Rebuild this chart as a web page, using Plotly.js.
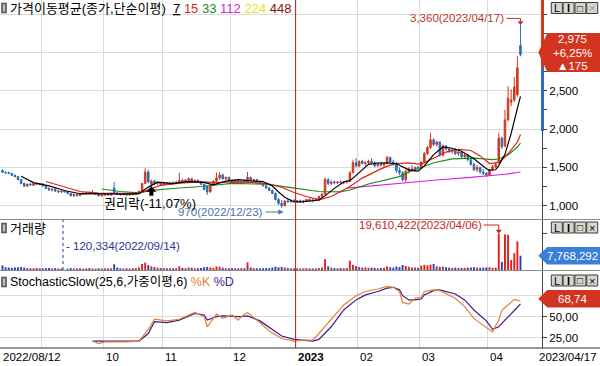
<!DOCTYPE html>
<html><head><meta charset="utf-8">
<script src="https://cdn.plot.ly/plotly-3.0.1.min.js"></script>
<style>html,body{margin:0;padding:0;background:#fff}#chart{width:600px;height:366px}</style>
</head><body><div id="chart"></div>
<script>
// ---------- calendar (KRX sessions) ----------
const firstDay = '2022-08-12', lastDay = '2023-04-17';
const holidays = ['2022-08-15','2022-09-09','2022-09-12','2022-10-03','2022-10-10','2022-12-30','2023-01-23','2023-01-24','2023-03-01'];
function tradingDays(){const out=[];let d=new Date(firstDay+'T00:00:00Z');const end=new Date(lastDay+'T00:00:00Z');
 while(d<=end){const wd=d.getUTCDay();const s=d.toISOString().slice(0,10);if(wd!==0&&wd!==6&&holidays.indexOf(s)<0)out.push(s.replace(/-/g,'/'));d=new Date(d.getTime()+86400000);}return out;}
const dates = tradingDays();

// ---------- price data ----------
const open = [1460,1435,1430,1420,1395,1380,1340,1290,1255,1280,1265,1290,1280,
 1285,1260,1225,1205,1215,1190,1180,1190,1180,1160,1130,1145,1130,1160,1150,1170,1160,1165,1150,1130,
 1140,1150,1140,1230,1165,1150,1145,1155,1140,1150,1145,1170,1190,1290,1440,1280,1320,1290,1300,
 1275,1290,1280,1300,1290,1310,1330,1310,1335,1350,1310,1330,1305,1280,1250,1180,1270,1320,1360,1400,1350,1370,
 1330,1300,1330,1300,1320,1310,1370,1330,1340,1310,1290,1260,1230,1200,1160,1080,1030,1000,1060,1050,1070,
 1055,1065,1050,1060,1080,1060,1075,1070,1120,1150,1340,1290,1310,1300,1310,1300,1310,1320,1430,1560,
 1520,1580,1550,1560,1580,1560,1520,1550,1530,1550,1630,1570,1540,1460,1430,1340,1450,1480,1460,1500,
 1490,1570,1680,1760,1860,1800,1830,1660,1780,1740,1710,1730,1680,1700,1640,1660,1600,1540,1470,1500,1440,1420,
 1400,1470,1510,1560,1880,1780,2120,2350,2380,2450,3090];
const high = [1475,1450,1445,1430,1410,1390,1350,1300,1290,1300,1295,1300,1295,
 1290,1270,1240,1225,1230,1205,1200,1195,1190,1170,1155,1160,1165,1175,1175,1185,1205,1175,1160,1150,
 1160,1165,1170,1310,1175,1160,1165,1165,1160,1160,1175,1195,1300,1490,1470,1340,1340,1320,1310,
 1300,1310,1305,1320,1320,1430,1350,1345,1370,1365,1340,1345,1320,1290,1270,1280,1330,1430,1440,1420,1380,1380,
 1345,1340,1350,1330,1340,1440,1380,1350,1350,1330,1300,1275,1240,1210,1170,1100,1075,1070,1090,1080,1085,
 1075,1080,1070,1090,1095,1085,1100,1130,1170,1370,1360,1330,1330,1320,1330,1320,1335,1450,1600,1620,
 1590,1600,1580,1600,1620,1580,1560,1570,1560,1650,1640,1600,1570,1500,1450,1470,1500,1530,1510,1520,
 1580,1700,1780,1950,1880,1850,1840,1800,1790,1760,1740,1750,1720,1710,1680,1670,1620,1560,1530,1510,1480,1440,
 1480,1530,1560,1950,1900,2250,2560,2520,2680,2950,3360];
const low = [1425,1420,1410,1385,1370,1330,1280,1245,1250,1265,1260,1270,1265,
 1250,1215,1195,1185,1180,1170,1165,1175,1150,1120,1115,1120,1125,1145,1140,1150,1155,1140,1120,1115,
 1125,1135,1130,1150,1140,1130,1135,1135,1130,1135,1140,1160,1185,1280,1290,1250,1270,1270,1260,
 1260,1275,1270,1280,1280,1300,1300,1300,1320,1300,1295,1300,1270,1200,1140,1170,1260,1310,1340,1340,1330,1320,
 1290,1290,1290,1280,1300,1305,1320,1310,1300,1280,1250,1220,1190,1150,1070,1010,970,990,1040,1040,1045,
 1040,1040,1030,1050,1050,1045,1060,1065,1100,1140,1270,1270,1280,1280,1290,1280,1290,1310,1420,1500,
 1500,1540,1520,1540,1550,1500,1510,1510,1500,1540,1560,1520,1430,1400,1320,1310,1420,1440,1440,1470,
 1480,1560,1660,1740,1780,1770,1640,1640,1720,1690,1680,1660,1650,1620,1610,1580,1520,1450,1440,1420,1400,1375,
 1390,1450,1490,1550,1740,1760,2100,2300,2350,2420,2950];
const close = [1435,1430,1420,1395,1380,1340,1290,1255,1280,1270,1290,1280,1285,
 1260,1225,1205,1215,1190,1180,1190,1180,1160,1130,1145,1130,1160,1150,1170,1160,1165,1150,1130,1140,
 1150,1140,1160,1165,1150,1145,1155,1140,1150,1145,1170,1190,1290,1440,1310,1320,1290,1300,1275,
 1290,1280,1300,1290,1310,1330,1310,1335,1350,1310,1330,1305,1280,1210,1180,1270,1320,1360,1400,1350,1370,1330,
 1300,1330,1300,1320,1310,1370,1330,1340,1310,1290,1260,1230,1200,1160,1080,1030,1000,1060,1050,1070,1055,
 1065,1050,1060,1080,1060,1075,1070,1120,1150,1340,1290,1310,1300,1310,1300,1310,1320,1430,1560,1520,
 1580,1550,1560,1580,1560,1520,1550,1530,1550,1630,1570,1540,1460,1430,1340,1450,1480,1460,1500,1490,
 1570,1680,1760,1860,1800,1830,1660,1780,1740,1710,1730,1680,1700,1640,1660,1600,1540,1470,1500,1440,1420,1400,
 1470,1510,1540,1880,1770,2120,2400,2380,2550,2800,2975];
const volume = [2400000,1500000,1300000,1200000,1400000,1500000,1600000,1300000,1000000,900000,900000,1000000,900000,
 900000,1000000,1100000,900000,1000000,800000,800000,120334,700000,1000000,900000,800000,900000,700000,900000,1000000,800000,700000,900000,800000,
 900000,800000,900000,3100000,1300000,900000,800000,900000,800000,900000,1000000,1300000,3300000,4000000,2700000,2000000,1500000,1300000,1000000,
 1100000,900000,1000000,900000,1000000,2000000,1100000,1000000,1400000,1200000,900000,1000000,1100000,1500000,1700000,1400000,1100000,1900000,1800000,1200000,1000000,900000,
 900000,1000000,900000,1000000,900000,4200000,1400000,1000000,900000,900000,1000000,1100000,1000000,1300000,1800000,1500000,1700000,1400000,1000000,900000,800000,
 900000,800000,900000,1000000,800000,900000,800000,1100000,1400000,5900000,2000000,1300000,1000000,900000,1000000,900000,1100000,5100000,2900000,2100000,
 1700000,1300000,1400000,1200000,1300000,1100000,1000000,1100000,1200000,2000000,1500000,1300000,1900000,1600000,2700000,2200000,1800000,1300000,1400000,1200000,
 2400000,2800000,2500000,2900000,3300000,2000000,1700000,1900000,1500000,1300000,1200000,1300000,1200000,1100000,1200000,1300000,1400000,1500000,1300000,1200000,1300000,1400000,
 1500000,1200000,1300000,19610422,4400000,19300000,19200000,5400000,9200000,15600000,7768292];

// moving averages (session number, value)
const ma7Day = [6,10,15,20,25,30,35,40,44,47,50,55,60,65,68,72,76,80,84,87,89,91,94,96,100,102,104,107,110,112,114,116,118,121,124,127,129,131,134,136,139,142,145,148,152,156,157,159,160,162,164,165,166,167];
const ma7Val = [1384,1301,1259,1198,1156,1155,1148,1151,1156,1242,1306,1289,1318,1303,1271,1321,1340,1323,1316,1256,1179,1109,1049,1050,1064,1074,1128,1226,1309,1326,1396,1467,1540,1557,1560,1547,1503,1467,1450,1519,1666,1767,1750,1711,1613,1481,1463,1469,1523,1670,1943,2091,2271,2428];
const ma15Day = [14,19,25,31,40,44,48,51,57,64,69,74,80,85,90,94,98,102,106,112,116,122,126,131,135,139,143,147,151,154,157,160,162,164,166,167];
const ma15Val = [1315,1255,1185,1165,1155,1160,1225,1265,1295,1310,1300,1310,1305,1290,1240,1172,1120,1075,1120,1250,1360,1480,1545,1560,1540,1620,1700,1735,1720,1650,1550,1565,1636,1727,1831,1930];
const ma33Day = [32,38,44,48,57,64,74,85,93,96,102,109,112,118,123,128,131,135,139,145,152,158,160,163,166,167];
const ma33Val = [1218,1185,1166,1200,1231,1250,1290,1280,1235,1218,1185,1180,1205,1283,1330,1380,1440,1500,1560,1610,1620,1600,1609,1662,1766,1818];
const ma112Day = [111,120,130,140,150,157,162,167];
const ma112Val = [1228,1262,1300,1335,1365,1392,1410,1440];

// stochastic slow (session, %K, %D)
const stochDay = [29,31,33,40,44,47,49,53,57,62,65,66,69,71,74,76,77,79,83,86,90,94,97,100,102,106,110,114,117,121,124,126,128,129,131,133,135,136,139,141,146,149,152,156,158,160,161,163,165,167];
const stochK = [21,18,20,20,21,35,47,45,47,55,50,38,53,48,52,46,50,55,43,33,24,21,22,22,30,47,64,75,80,83,86,85,80,67,65,72,73,80,82,81,72,62,48,37,32,46,58,64,70.7,68.74];
const stochD = [21,21,21,21,21,30,44,43,46,54,52,46,50,51,50,50,50,51,45,37,27,23,22,21,23,38,58,70,76,80,84,85,82,75,70,70,71,76,81,82,77,70,58,45,35,38,42,50,57,65.1];

// events
const exRightsDate = '2022/10/26', exRightsRate = -11.07;
const maPeriods = [7,15,33,112,224,448];

// ---------- styling ----------
const UP='#d0391e', DN='#2c6cb9', VUP='#e41f1a', VDN='#2a3fbf';
const NUMF='Liberation Sans, Arial, sans-serif';
const KRF='Liberation Sans, Noto Sans CJK KR, sans-serif';
const PW=541.7, H=366;
const px=x=>x/PW, py=y=>1-y/H;
const fmt=n=>Math.round(n).toLocaleString('en-US');
const dec=(v,d)=>v.toFixed(d).replace('.',',');
const day=dates.map((_,i)=>i);
const N=dates.length;

const traces=[
 {type:'candlestick',x:day,open:open,high:high,low:low,close:close,xaxis:'x',yaxis:'y',
  increasing:{line:{color:UP,width:1},fillcolor:UP},decreasing:{line:{color:DN,width:1},fillcolor:DN},whiskerwidth:0,hoverinfo:'skip'},
 {type:'scatter',mode:'lines',x:ma112Day,y:ma112Val,line:{color:'#e020e0',width:1.2},xaxis:'x',yaxis:'y'},
 {type:'scatter',mode:'lines',x:ma33Day,y:ma33Val,line:{color:'#1e8a1e',width:1.2},xaxis:'x',yaxis:'y'},
 {type:'scatter',mode:'lines',x:ma15Day,y:ma15Val,line:{color:'#e0201a',width:1.2},xaxis:'x',yaxis:'y'},
 {type:'scatter',mode:'lines',x:ma7Day,y:ma7Val,line:{color:'#000000',width:1.2},xaxis:'x',yaxis:'y'},
 {type:'bar',x:day,y:volume,width:0.62,marker:{color:close.map((c,i)=>c>=open[i]?VUP:VDN),line:{width:0}},xaxis:'x2',yaxis:'y2'},
 {type:'scatter',mode:'lines',x:stochDay,y:stochD,line:{color:'#3b1d8f',width:1.2},xaxis:'x3',yaxis:'y3'},
 {type:'scatter',mode:'lines',x:stochDay,y:stochK,line:{color:'#e3803a',width:1.2},xaxis:'x3',yaxis:'y3'}
];

// month starts
const mStart=[];for(let i=1;i<N;i++){if(dates[i].slice(0,7)!==dates[i-1].slice(0,7))mStart.push(i);}
const grid=mStart.map(i=>i-0.5);
const R0=-0.806,R1=173.94;
const xax={range:[R0,R1],tickvals:grid,showticklabels:false,ticks:'',showgrid:true,gridcolor:'#dadada',gridwidth:1,zeroline:false,showline:false,fixedrange:true,rangeslider:{visible:false}};

const shapes=[],ann=[];
// separators
[[219.5,'#8a8a8a'],[270.5,'#8a8a8a'],[348,'#333']].forEach(s=>shapes.push({type:'line',xref:'paper',yref:'paper',x0:0,x1:600/PW,y0:py(s[0]),y1:py(s[0]),line:{color:s[1],width:1}}));
// year boundary
const jan=mStart.find(i=>dates[i].slice(5,7)==='01');
shapes.push({type:'line',xref:'x',yref:'paper',x0:jan-0.5,x1:jan-0.5,y0:py(348),y1:1,line:{color:'#d01010',width:1}});
// axis color bar
shapes.push({type:'rect',xref:'paper',yref:'paper',x0:px(540.7),x1:px(543.7),y0:py(67),y1:py(0),fillcolor:'#d0391e',line:{width:0}});
shapes.push({type:'rect',xref:'paper',yref:'paper',x0:px(540.7),x1:px(543.7),y0:py(131),y1:py(67),fillcolor:'#2c6cb9',line:{width:0}});

// high / low markers
let hi=0,lo=0;for(let i=0;i<N;i++){if(high[i]>high[hi])hi=i;if(low[i]<low[lo])lo=i;}
const HRED='#b8392a', LBLU='#4a72ad';
ann.push({xref:'x',yref:'y',x:hi,y:high[hi],xanchor:'right',yanchor:'middle',xshift:-14,yshift:6.5,showarrow:false,text:fmt(high[hi])+'('+dates[hi]+')',font:{family:NUMF,size:11.5,color:HRED}});
shapes.push({type:'path',xref:'x',yref:'y',xsizemode:'pixel',ysizemode:'pixel',xanchor:hi,yanchor:high[hi],path:'M -14,6.5 L 0,6.5 L 0,3',line:{color:HRED,width:1}});
shapes.push({type:'path',xref:'x',yref:'y',xsizemode:'pixel',ysizemode:'pixel',xanchor:hi,yanchor:high[hi],path:'M -2.5,3.5 L 2.5,3.5 L 0,0 Z',fillcolor:HRED,line:{color:HRED,width:0.5}});
ann.push({xref:'x',yref:'y',x:lo,y:low[lo],xanchor:'right',yanchor:'middle',xshift:-17,yshift:-4,showarrow:false,text:fmt(low[lo])+'('+dates[lo]+')',font:{family:NUMF,size:11.5,color:LBLU}});
shapes.push({type:'path',xref:'x',yref:'y',xsizemode:'pixel',ysizemode:'pixel',xanchor:lo,yanchor:low[lo],path:'M -16,-4 L -1,-4',line:{color:LBLU,width:1}});
shapes.push({type:'path',xref:'x',yref:'y',xsizemode:'pixel',ysizemode:'pixel',xanchor:lo,yanchor:low[lo],path:'M 1.5,-4 L -3,-1.8 L -3,-6.2 Z',fillcolor:LBLU,line:{color:LBLU,width:0.5}});
// ex-rights
const ex=dates.indexOf(exRightsDate);
shapes.push({type:'path',xref:'x',yref:'y',xsizemode:'pixel',ysizemode:'pixel',xanchor:ex,yanchor:low[ex],path:'M 0,0 L -4.5,-5 L 4.5,-5 Z M -1.8,-5 L 1.8,-5 L 1.8,-9 L -1.8,-9 Z',fillcolor:'#000',line:{color:'#000',width:0.5}});
ann.push({xref:'x',yref:'y',x:ex,y:low[ex],xanchor:'center',yanchor:'middle',yshift:-17,xshift:-1,showarrow:false,text:'권리락('+dec(exRightsRate,2)+'%)',font:{family:KRF,size:13,color:'#000'}});

// volume extremes
let vmx=0,vmn=0;for(let i=0;i<N;i++){if(volume[i]>volume[vmx])vmx=i;if(volume[i]<volume[vmn])vmn=i;}
const VRED='#cc2020', VBLU='#26349a';
ann.push({xref:'x2',yref:'y2',x:vmx,y:volume[vmx],xanchor:'right',yanchor:'middle',xshift:-15,yshift:9,showarrow:false,text:fmt(volume[vmx])+'('+dates[vmx]+')',font:{family:NUMF,size:11.5,color:VRED}});
shapes.push({type:'path',xref:'x2',yref:'y2',xsizemode:'pixel',ysizemode:'pixel',xanchor:vmx,yanchor:volume[vmx],path:'M -15,9 L 0,9 L 0,3.5',line:{color:VRED,width:1}});
shapes.push({type:'path',xref:'x2',yref:'y2',xsizemode:'pixel',ysizemode:'pixel',xanchor:vmx,yanchor:volume[vmx],path:'M -2.5,4 L 2.5,4 L 0,0.5 Z',fillcolor:VRED,line:{color:VRED,width:0.5}});
shapes.push({type:'line',xref:'x2',yref:'paper',x0:vmn-0.5,x1:vmn-0.5,y0:py(270),y1:py(220),line:{color:VBLU,width:1,dash:'dot'}});
ann.push({xref:'x2',yref:'paper',x:vmn-0.5,y:py(246),xanchor:'left',yanchor:'middle',xshift:1,showarrow:false,text:'- '+fmt(volume[vmn])+'('+dates[vmn]+')',font:{family:NUMF,size:11.5,color:VBLU}});

// date labels
ann.push({xref:'paper',yref:'paper',x:px(1),y:py(357),xanchor:'left',yanchor:'middle',showarrow:false,text:dates[0],font:{family:NUMF,size:11.5,color:'#000'}});
ann.push({xref:'paper',yref:'paper',x:px(599),y:py(357),xanchor:'right',yanchor:'middle',showarrow:false,text:dates[N-1],font:{family:NUMF,size:11.5,color:'#000'}});
mStart.forEach(i=>{const pxl=(i-0.5-R0)/(R1-R0)*PW;if(pxl<62)return;const mm=dates[i].slice(5,7);
 const t=mm==='01'?'<b>'+dates[i].slice(0,4)+'</b>':mm;
 ann.push({xref:'x3',yref:'paper',x:i-0.5,y:py(357),xanchor:'left',yanchor:'middle',xshift:0.5,showarrow:false,text:t,font:{family:NUMF,size:11.5,color:'#000'}});});

// panel titles
const maCols=['#000','#d42a1c','#1e8a1e','#d620d6','#e8e020','#8b1010'];
const maTxt=maPeriods.map((p,i)=>'<span style="color:'+maCols[i]+(i===0?';text-decoration:underline':'')+'">'+p+'</span>').join(' ');
function icon(y){shapes.push({type:'rect',xref:'paper',yref:'paper',x0:px(1.5),x1:px(6.5),y0:py(y+10),y1:py(y),fillcolor:'#6a6a6a',line:{color:'#333',width:0.5}});
 shapes.push({type:'rect',xref:'paper',yref:'paper',x0:px(3.3),x1:px(4.7),y0:py(y+8.5),y1:py(y+1.5),fillcolor:'#e8e8e8',line:{width:0}});}
icon(3);icon(223);icon(277);
ann.push({xref:'paper',yref:'paper',x:px(8),y:py(8.5),xanchor:'left',yanchor:'middle',showarrow:false,text:'가격이동평균(종가,단순이평)  '+maTxt,font:{family:KRF,size:13,color:'#000'}});
ann.push({xref:'paper',yref:'paper',x:px(8),y:py(228.5),xanchor:'left',yanchor:'middle',showarrow:false,text:'거래량',font:{family:KRF,size:13,color:'#000'}});
ann.push({xref:'paper',yref:'paper',x:px(8),y:py(282),xanchor:'left',yanchor:'middle',showarrow:false,text:'StochasticSlow(25,6,가중이평,6) <span style="color:#e3803a">%K</span> <span style="color:#3b1d8f">%D</span>',font:{family:KRF,size:12.5,color:'#000'}});

// buttons
function buttons(y,grayX){['L','I','□','×'].forEach((t,k)=>{const x0=551+k*11.8;
 shapes.push({type:'rect',xref:'paper',yref:'paper',x0:px(x0),x1:px(x0+11),y0:py(y+11),y1:py(y),fillcolor:'#d8d5cf',line:{color:'#3a3a3a',width:1}});
 ann.push({xref:'paper',yref:'paper',x:px(x0+5.5),y:py(y+5.5),xanchor:'center',yanchor:'middle',showarrow:false,text:k===1?'<b>I</b>':t,font:{family:NUMF,size:k===2?10:11,color:(k===3&&grayX)?'#9a9a9a':'#000'}});});}
buttons(2.5,true);buttons(222,false);buttons(275,false);

// value tags
function tag(y0,y1,col,lines){const ym=(y0+y1)/2;
 shapes.push({type:'path',xref:'paper',yref:'paper',path:'M '+px(547)+','+py(y0)+' L '+px(600)+','+py(y0)+' L '+px(600)+','+py(y1)+' L '+px(547)+','+py(y1)+' L '+px(538)+','+py(ym)+' Z',fillcolor:col,line:{width:0}});
 const step=(y1-y0)/lines.length;lines.forEach((t,k)=>ann.push({xref:'paper',yref:'paper',x:px(572),y:py(y0+step*(k+0.5)),xanchor:'center',yanchor:'middle',showarrow:false,text:t,font:{family:NUMF,size:11.5,color:'#fff'}}));}
const last=close[N-1],prev=close[N-2];
tag(33,72,'#d2341f',[fmt(last),(last>=prev?'+':'')+dec((last/prev-1)*100,2)+'%',(last>=prev?'▲':'▼')+fmt(Math.abs(last-prev))]);
tag(247,264.5,'#3a7fd8',[fmt(volume[N-1])]);
tag(290,307.5,'#d2341f',[dec(stochK[stochK.length-1],2)]);

const tickfont={family:NUMF,size:11.5,color:'#000'};
const layout={width:600,height:366,margin:{l:0,r:600-PW,t:0,b:0},paper_bgcolor:'#fff',plot_bgcolor:'#fff',showlegend:false,hovermode:false,dragmode:false,
 font:{family:NUMF,size:11.5,color:'#000'},
 xaxis:Object.assign({domain:[0,1],anchor:'y'},xax),
 xaxis2:Object.assign({domain:[0,1],anchor:'y2',matches:'x'},xax),
 xaxis3:Object.assign({domain:[0,1],anchor:'y3',matches:'x'},xax),
 yaxis:{domain:[py(219),1],range:[826,3685],side:'right',anchor:'x',tickvals:[1000,1500,2000,2500,3000,3500],ticktext:['1,000','1,500','2,000','2,500','',''],
  ticks:'outside',ticklen:4,tickcolor:'#444',showline:true,linecolor:'#444',showgrid:true,gridcolor:'#dadada',zeroline:false,tickfont:tickfont,fixedrange:true,
  minor:{tickvals:[1250,1750,2250,2750,3250],ticks:'outside',ticklen:4,tickcolor:'#444',showgrid:false}},
 yaxis2:{domain:[py(270),py(220)],range:[0,27236000],side:'right',anchor:'x2',tickvals:[10000000,20000000],ticktext:['',''],ticks:'outside',ticklen:4,tickcolor:'#444',
  showline:true,linecolor:'#444',showgrid:false,zeroline:false,fixedrange:true},
 yaxis3:{domain:[py(348),py(271)],range:[12.74,104.4],side:'right',anchor:'x3',tickvals:[25,50,75],ticktext:['25,00','50,00','75,00'],ticks:'outside',ticklen:4,tickcolor:'#444',
  showline:true,linecolor:'#444',showgrid:true,gridcolor:'#dadada',zeroline:false,tickfont:tickfont,fixedrange:true},
 shapes:shapes,annotations:ann};
Plotly.newPlot('chart',traces,layout,{staticPlot:true,displayModeBar:false});
</script></body></html>
